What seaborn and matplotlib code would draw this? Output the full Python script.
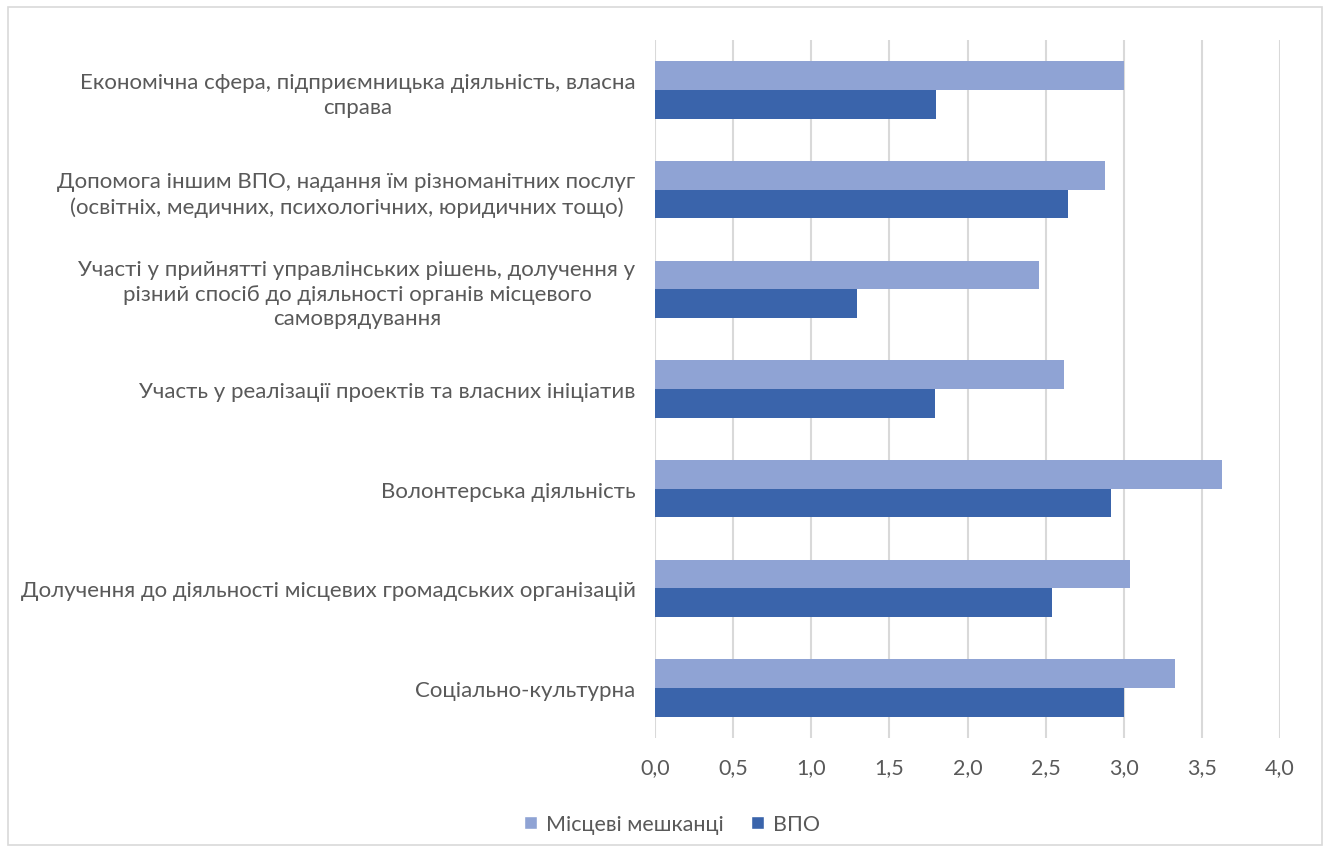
import matplotlib
matplotlib.use("Agg")
import matplotlib.pyplot as plt
import seaborn as sns
import pandas as pd
from matplotlib.patches import Rectangle, Patch

categories = [
    "Економічна сфера, підприємницька діяльність, власна\nсправа",
    "Допомога іншим ВПО, надання їм різноманітних послуг\n(освітніх, медичних, психологічних, юридичних тощо)",
    "Участі у прийнятті управлінських рішень, долучення у\nрізний спосіб до діяльності органів місцевого\nсамоврядування",
    "Участь у реалізації проектів та власних ініціатив",
    "Волонтерська діяльність",
    "Долучення до діяльності місцевих громадських організацій",
    "Соціально-культурна",
]
series_names = ["Місцеві мешканці", "ВПО"]
local_values = [3.00, 2.88, 2.46, 2.62, 3.63, 3.04, 3.33]
idp_values = [1.80, 2.64, 1.29, 1.79, 2.92, 2.54, 3.00]
x_ticks = [0.0, 0.5, 1.0, 1.5, 2.0, 2.5, 3.0, 3.5, 4.0]
x_tick_labels = ["0,0", "0,5", "1,0", "1,5", "2,0", "2,5", "3,0", "3,5", "4,0"]

colors = ["#8FA3D4", "#3A64AB"]
text_color = "#595959"

rows = []
for c, a, b in zip(categories, local_values, idp_values):
    rows.append({"cat": c, "series": series_names[0], "value": a})
    rows.append({"cat": c, "series": series_names[1], "value": b})
df = pd.DataFrame(rows)

sns.set_theme(style="white")
plt.rcParams["font.family"] = ["Lato", "DejaVu Sans"]

fig = plt.figure(figsize=(13.3, 8.54), dpi=100)
ax = fig.add_axes([655 / 1330, 1 - 739 / 854, (1280 - 655) / 1330, (739 - 41) / 854])

sns.barplot(data=df, y="cat", x="value", hue="series", order=categories,
            hue_order=series_names, palette=colors, orient="h", width=0.575,
            ax=ax, saturation=1, legend=False, linewidth=0)

ax.set_xlim(0, 4.0)
ax.set_ylim(len(categories) - 0.5, -0.5)
ax.set_xticks(x_ticks)
ax.set_xticklabels(x_tick_labels, fontsize=15.5, color=text_color)
ax.tick_params(axis="y", labelsize=16, labelcolor=text_color, length=0, pad=14)
ax.tick_params(axis="x", length=0, pad=14)
for lbl in ax.get_yticklabels():
    lbl.set_horizontalalignment("right")
    lbl.set_multialignment("center")
    lbl.set_linespacing(1.3)
ax.set_xlabel("")
ax.set_ylabel("")
ax.grid(axis="x", color="#D9D9D9", linewidth=1.5)
ax.set_axisbelow(True)
for s in ax.spines.values():
    s.set_visible(False)

handles = [Patch(facecolor=colors[0]), Patch(facecolor=colors[1])]
fig.legend(handles, series_names, loc="center", bbox_to_anchor=(672 / 1330, 1 - 825 / 854),
           ncol=2, frameon=False, fontsize=15.5, labelcolor=text_color,
           handlelength=0.6, handleheight=0.6, columnspacing=1.3, handletextpad=0.4)

fig.patches.append(Rectangle((8 / 1330, 8 / 854), 1314 / 1330, 838 / 854,
                             transform=fig.transFigure, fill=False,
                             edgecolor="#D9D9D9", linewidth=1.2))

fig.savefig("out.png", dpi=100)
